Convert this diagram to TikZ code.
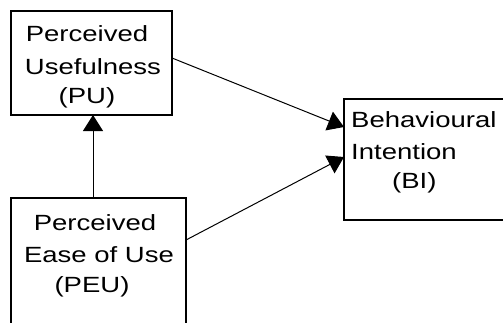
\documentclass[tikz,border=0pt]{standalone}
\usepackage{fontspec}
\setmainfont{Liberation Sans}[FakeStretch=1.25]
\usetikzlibrary{arrows.meta,calc}
\begin{document}
\begin{tikzpicture}[x=1pt,y=-1pt,
  box/.style={draw, line width=1.3pt, inner sep=0pt, outer sep=0pt, anchor=north west},
  lbl/.style={inner sep=0pt, anchor=base, font=\fontsize{22}{32}\selectfont},
  link/.style={line width=1pt, -{Triangle[length=16pt,width=20pt]}}]
\useasboundingbox (0,0) rectangle (503,322);
\clip (0,0) rectangle (503,322);
% construct boxes
\node[box, minimum width=161pt, minimum height=104pt] (pu) at (11,11) {};
\node[box, minimum width=175pt, minimum height=150pt] (peu) at (11,198) {};
\node[box, minimum width=180pt, minimum height=121pt] (bi) at (344,99) {};
% labels
\node[lbl] (pu1) at (87,41) {Perceived};
\node[lbl] (pu2) at (93,74) {Usefulness};
\node[lbl] (pu3) at (87,103) {(PU)};
\node[lbl] (peu1) at (95,230) {Perceived};
\node[lbl] (peu2) at (99,262) {Ease of Use};
\node[lbl] (peu3) at (92,292) {(PEU)};
\node[lbl, anchor=base west] (bi1) at (351,127) {Behavioural};
\node[lbl, anchor=base west] (bi2) at (351,159) {Intention};
\node[lbl, anchor=base west] (bi3) at (392,188) {(BI)};
% relations
\draw[link] ($(peu.north west)+(82,0)$) -- ($(pu.south west)+(82,0)$);
\draw[link] ($(pu.north east)+(0,47)$) -- ($(bi.north west)+(0,28)$);
\draw[link] ($(peu.north east)+(0,42)$) -- ($(bi.north west)+(0,58)$);
\end{tikzpicture}
\end{document}
